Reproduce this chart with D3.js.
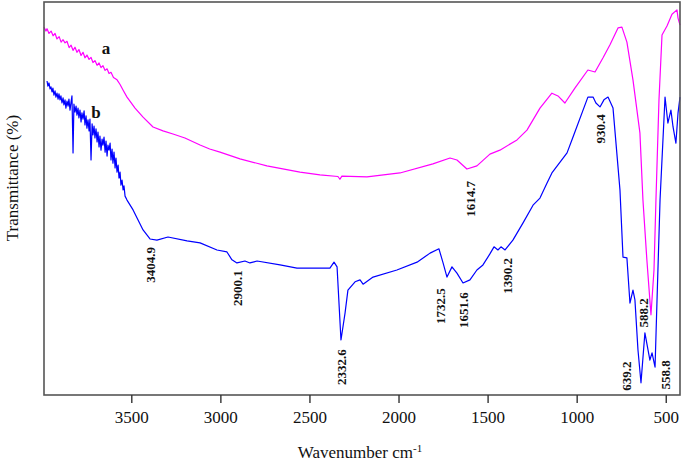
<!DOCTYPE html>
<html>
<head>
<meta charset="utf-8">
<script src="https://cdn.jsdelivr.net/npm/d3@7"></script>
<style>
  html, body { margin: 0; padding: 0; background: #fff; }
  svg { display: block; }
</style>
</head>
<body>
<div id="chart"></div>
<script>
// spectrum a (magenta) : [wavenumber, transmittance]
const seriesA = [
  [3990, 93.6], [3979, 92.6], [3973, 93.2], [3962, 92.0], [3950, 92.6], [3939, 91.4],
  [3928, 92.0], [3917, 90.6], [3905, 91.2], [3894, 89.8], [3883, 90.4], [3872, 89.6],
  [3861, 90.0], [3849, 88.4], [3838, 89.0], [3827, 87.7], [3816, 88.5], [3805, 87.2],
  [3794, 87.9], [3782, 86.4], [3771, 87.2], [3760, 85.8], [3749, 86.5], [3737, 85.4],
  [3726, 85.9], [3715, 84.6], [3704, 85.1], [3692, 83.9], [3681, 84.5], [3670, 83.3],
  [3659, 83.8], [3647, 82.6], [3636, 83.0], [3625, 81.8], [3614, 82.1], [3600, 80.8],
  [3580, 80.2], [3563, 79.0], [3545, 77.5], [3524, 75.8], [3479, 73.0], [3434, 70.7],
  [3378, 68.2], [3322, 67.2], [3266, 66.4], [3199, 65.4], [3114, 63.6], [3060, 62.6],
  [3002, 61.8], [2890, 60.1], [2739, 58.3], [2553, 56.7], [2441, 56.0], [2340, 55.6],
  [2329, 54.9], [2318, 55.7], [2177, 55.5], [1992, 56.5], [1807, 58.8], [1711, 60.3],
  [1672, 59.8], [1616, 57.5], [1560, 58.3], [1487, 61.3], [1431, 62.3], [1335, 64.9],
  [1279, 67.4], [1206, 73.0], [1139, 76.8], [1105, 76.1], [1066, 74.3], [1010, 78.1],
  [937, 82.7], [897, 82.2], [852, 85.8], [813, 89.1], [768, 93.4], [746, 93.6],
  [718, 89.8], [684, 80.2], [645, 66.7], [628, 49.6], [606, 34.4], [583, 20.4],
  [566, 31.8], [555, 49.6], [538, 75.1], [521, 91.6], [493, 93.9], [465, 96.9],
  [437, 98.0], [431, 95.9], [420, 94.1]
];

// spectrum b (blue)
const seriesB = [
  [3973, 79.9], [3968, 78.6], [3962, 79.4], [3956, 77.9], [3951, 78.4], [3945, 77.1],
  [3940, 78.1], [3934, 76.3], [3928, 77.4], [3923, 75.8], [3917, 76.8], [3911, 75.3],
  [3906, 76.6], [3900, 75.1], [3895, 76.1], [3889, 74.3], [3883, 75.6], [3878, 73.8],
  [3872, 75.1], [3867, 73.0], [3861, 74.8], [3855, 73.5], [3850, 75.3], [3844, 72.5],
  [3838, 74.6], [3833, 76.1], [3827, 61.6], [3822, 74.0], [3816, 72.0], [3810, 73.5],
  [3805, 71.2], [3799, 73.0], [3794, 70.5], [3788, 72.5], [3782, 69.5], [3777, 71.8],
  [3771, 70.2], [3765, 72.3], [3760, 68.7], [3754, 71.0], [3749, 67.9], [3743, 70.0],
  [3737, 67.2], [3732, 70.2], [3726, 59.8], [3720, 69.0], [3715, 66.2], [3709, 68.4],
  [3704, 65.4], [3698, 67.7], [3692, 64.4], [3687, 66.9], [3681, 63.1], [3676, 65.9],
  [3670, 62.3], [3664, 65.1], [3659, 63.6], [3653, 65.6], [3647, 61.8], [3642, 64.6],
  [3636, 60.8], [3631, 63.6], [3625, 62.3], [3619, 64.1], [3614, 59.8], [3608, 62.6],
  [3603, 59.0], [3597, 61.8], [3591, 57.8], [3586, 60.3], [3580, 56.7], [3574, 58.5],
  [3569, 55.2], [3563, 56.7], [3558, 53.4], [3552, 54.7], [3546, 52.2], [3541, 53.2],
  [3535, 50.6], [3524, 49.6], [3490, 47.1], [3434, 42.0], [3395, 39.7], [3356, 39.4],
  [3294, 40.2], [3187, 39.2], [3114, 38.7], [3019, 36.9], [2963, 36.4], [2935, 34.4],
  [2907, 33.6], [2862, 34.1], [2834, 33.6], [2794, 34.1], [2665, 33.1], [2570, 32.3],
  [2385, 32.3], [2362, 33.8], [2345, 32.6], [2323, 14.0], [2300, 20.9], [2284, 26.7],
  [2244, 28.8], [2216, 29.3], [2199, 28.2], [2143, 30.0], [2009, 31.8], [1896, 33.8],
  [1823, 36.1], [1773, 37.2], [1750, 33.6], [1728, 30.0], [1700, 32.6], [1672, 31.0],
  [1638, 28.5], [1599, 29.3], [1560, 31.8], [1526, 33.1], [1487, 35.9], [1464, 37.7],
  [1442, 36.9], [1425, 37.7], [1402, 36.9], [1358, 39.4], [1301, 43.8], [1245, 48.3],
  [1206, 50.1], [1167, 53.9], [1139, 56.5], [1054, 61.6], [1021, 65.6], [937, 75.8],
  [908, 75.8], [892, 74.3], [869, 73.3], [847, 75.1], [824, 75.8], [796, 73.0],
  [757, 52.2], [740, 35.1], [718, 34.9], [701, 23.4], [684, 26.7], [673, 24.2],
  [656, 11.5], [639, 3.1], [617, 15.8], [589, 8.9], [577, 10.7], [560, 7.1],
  [549, 24.2], [532, 49.6], [504, 75.8], [488, 69.2], [471, 72.5], [459, 68.2],
  [443, 64.1], [431, 71.8], [420, 75.8]
];

const xTicks = [3500, 3000, 2500, 2000, 1500, 1000, 500];

// peak annotations: text, anchor wavenumber, anchor transmittance
const peakText = ["3404.9", "2900.1", "2332.6", "1732.5", "1651.6", "1614.7", "1390.2", "930.4", "588.2", "639.2", "558.8"];
const peakW    = [3395, 2907, 2323, 1762, 1633, 1599, 1386, 869, 628, 718, 504];
const peakT    = [33.1, 27.2, 7.1, 22.6, 21.6, 49.9, 30.3, 67.7, 20.9, 4.8, 5.1];

const seriesNames = ["a", "b"];
const nameW = [3642, 3698];
const nameT = [88.3, 72.0];

const W = 685, H = 464;
const serif = "'Liberation Serif', 'Times New Roman', serif";

const svg = d3.select("#chart").append("svg")
  .attr("width", W)
  .attr("height", H);

const x = d3.scaleLinear().domain([3990, 420]).range([44, 680]);
const y = d3.scaleLinear().domain([0, 100]).range([395, 2]);

const line = d3.line()
  .x(d => x(d[0]))
  .y(d => y(d[1]));

svg.append("path")
  .datum(seriesA)
  .attr("fill", "none")
  .attr("stroke", "#ff00ff")
  .attr("stroke-width", 1.2)
  .attr("stroke-linejoin", "round")
  .attr("d", line);

svg.append("path")
  .datum(seriesB)
  .attr("fill", "none")
  .attr("stroke", "#0000ff")
  .attr("stroke-width", 1.2)
  .attr("stroke-linejoin", "round")
  .attr("d", line);

// frame
svg.append("rect")
  .attr("x", x.range()[0])
  .attr("y", y.range()[1])
  .attr("width", x.range()[1] - x.range()[0])
  .attr("height", y.range()[0] - y.range()[1])
  .attr("fill", "none")
  .attr("stroke", "#555")
  .attr("stroke-width", 1.6);

// x axis
const xAxis = svg.append("g")
  .attr("transform", `translate(0,${y.range()[0]})`)
  .call(d3.axisBottom(x).tickValues(xTicks).tickFormat(d3.format("d"))
    .tickSize(8).tickSizeOuter(0).tickPadding(8));
xAxis.select(".domain").remove();
xAxis.selectAll(".tick line").attr("stroke", "#333").attr("stroke-width", 1.4);
xAxis.selectAll(".tick text")
  .attr("font-family", serif)
  .attr("font-size", "17px")
  .attr("fill", "#111");

// axis titles
const xt = svg.append("text")
  .attr("x", 360)
  .attr("y", 458)
  .attr("text-anchor", "middle")
  .attr("font-family", serif)
  .attr("font-size", "17px")
  .attr("fill", "#111");
xt.append("tspan").text("Wavenumber cm");
xt.append("tspan").attr("dy", -6).attr("font-size", "11px").text("-1");

svg.append("text")
  .attr("transform", "translate(18,178) rotate(-90)")
  .attr("text-anchor", "middle")
  .attr("font-family", serif)
  .attr("font-size", "17px")
  .attr("fill", "#111")
  .text("Transmittance (%)");

// series names
svg.selectAll(".sname")
  .data(seriesNames)
  .join("text")
  .attr("class", "sname")
  .attr("x", (d, i) => x(nameW[i]))
  .attr("y", (d, i) => y(nameT[i]))
  .attr("dy", "0.35em")
  .attr("text-anchor", "middle")
  .attr("font-family", serif)
  .attr("font-weight", "bold")
  .attr("font-size", "17px")
  .attr("fill", "#111")
  .text(d => d);

// peak labels, rotated
svg.selectAll(".peak")
  .data(peakText)
  .join("text")
  .attr("class", "peak")
  .attr("transform", (d, i) => `translate(${x(peakW[i])},${y(peakT[i])}) rotate(-90)`)
  .attr("dy", "0.35em")
  .attr("text-anchor", "middle")
  .attr("font-family", serif)
  .attr("font-weight", "bold")
  .attr("font-size", "13px")
  .attr("fill", "#111")
  .text(d => d);
</script>
</body>
</html>
